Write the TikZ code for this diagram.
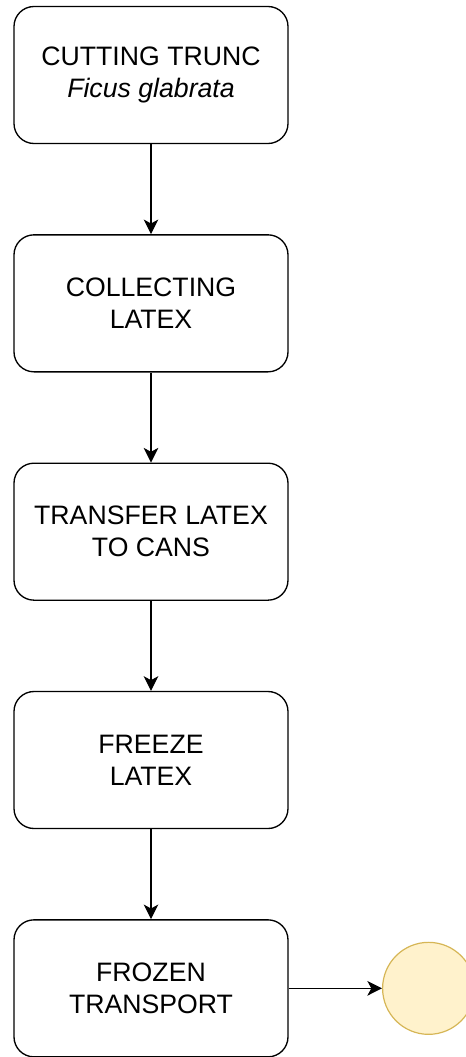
\documentclass[tikz,border=0pt]{standalone}
\usepackage{fontspec}
\setmainfont{Liberation Sans}
\usetikzlibrary{positioning,arrows.meta}

\definecolor{endfill}{HTML}{FFF2CC}
\definecolor{enddraw}{HTML}{D6B656}

\tikzset{
	stepbox/.style={draw, line width=1pt, rounded corners=15pt,
		minimum width=205.5pt, minimum height=102.75pt, align=center,
		font=\fontsize{20}{24}\selectfont, inner sep=0pt},
	flow/.style={-{Stealth[length=11pt,width=11pt,inset=3pt]}, line width=0.9pt},
	endmark/.style={circle, draw=enddraw, fill=endfill, line width=0.9pt,
		minimum size=69pt, inner sep=0pt}
}

\begin{document}
\begin{tikzpicture}[x=0.75pt, y=-0.75pt, node distance=67.5pt]
	
	\useasboundingbox (0, 0) rectangle (466, 1057);
	
	\node [stepbox] (cut) at (151, 75) {CUTTING TRUNC\\\textit{Ficus glabrata}};
	\node [stepbox, below=of cut] (collect) {COLLECTING\\LATEX};
	\node [stepbox, below=of collect] (transfer) {TRANSFER LATEX\\TO CANS};
	\node [stepbox, below=of transfer] (freeze) {FREEZE\\LATEX};
	\node [stepbox, below=of freeze] (transport) {FROZEN\\TRANSPORT};
	\node [endmark, right=70pt of transport] (done) {};
	
	\draw [flow] (cut) -- (collect);
	\draw [flow] (collect) -- (transfer);
	\draw [flow] (transfer) -- (freeze);
	\draw [flow] (freeze) -- (transport);
	\draw [flow] (transport) -- (done);
	
\end{tikzpicture}
\end{document}
